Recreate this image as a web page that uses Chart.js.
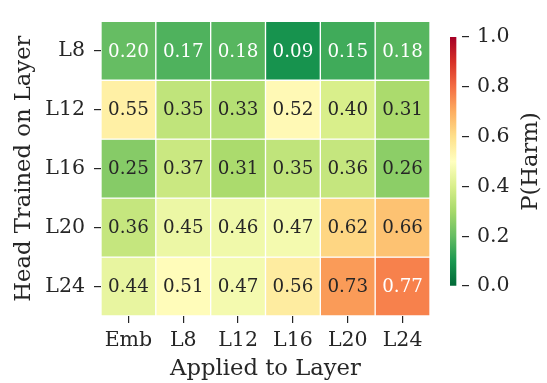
<!DOCTYPE html>
<html>
<head>
<meta charset="utf-8">
<script src="https://cdn.jsdelivr.net/npm/chart.js@4.4.1/dist/chart.umd.min.js"></script>
<style>
  html, body { margin: 0; padding: 0; background: #ffffff; }
  #wrap { position: relative; width: 547px; height: 383px; }
  #main { position: absolute; left: 0; top: 0; }
  #cbar { position: absolute; left: 440px; top: 0; }
</style>
</head>
<body>
<div id="wrap">
  <canvas id="main" width="547" height="383"></canvas>
  <canvas id="cbar" width="107" height="383"></canvas>
</div>
<script>
// ---- data ----
const rowLabels = ['L8', 'L12', 'L16', 'L20', 'L24'];
const colLabels = ['Emb', 'L8', 'L12', 'L16', 'L20', 'L24'];
const rowL8  = [0.20, 0.17, 0.18, 0.09, 0.15, 0.18];
const rowL12 = [0.55, 0.35, 0.33, 0.52, 0.40, 0.31];
const rowL16 = [0.25, 0.37, 0.31, 0.35, 0.36, 0.26];
const rowL20 = [0.36, 0.45, 0.46, 0.47, 0.62, 0.66];
const rowL24 = [0.44, 0.51, 0.47, 0.56, 0.73, 0.77];
const cbTicks = [0.0, 0.2, 0.4, 0.6, 0.8, 1.0];
const xTitle = 'Applied to Layer';
const yTitle = 'Head Trained on Layer';
const cbTitle = 'P(Harm)';

const rows = [rowL8, rowL12, rowL16, rowL20, rowL24];

// RdYlGn anchors (matplotlib), used reversed
const rdylgn = ['#a50026','#d73027','#f46d43','#fdae61','#fee08b','#ffffbf','#d9ef8b','#a6d96a','#66bd63','#1a9850','#006837'];
function hex2rgb(h){ return [parseInt(h.slice(1,3),16), parseInt(h.slice(3,5),16), parseInt(h.slice(5,7),16)]; }
const anchors = rdylgn.map(hex2rgb);
function cmapRGB(v){ // RdYlGn_r
  let t = 1 - Math.max(0, Math.min(1, v));
  const p = t * 10;
  const i = Math.min(9, Math.floor(p));
  const f = p - i;
  const a = anchors[i], b = anchors[i+1];
  return [0,1,2].map(k => Math.round(a[k] + (b[k]-a[k]) * f));
}
function cmap(v){ const c = cmapRGB(v); return `rgb(${c[0]},${c[1]},${c[2]})`; }
function textColorFor(v){
  const c = cmapRGB(v).map(x => { x /= 255; return x <= 0.03928 ? x/12.92 : Math.pow((x+0.055)/1.055, 2.4); });
  const lum = 0.2126*c[0] + 0.7152*c[1] + 0.0722*c[2];
  return lum > 0.408 ? '#262626' : '#ffffff';
}

const TICK = 20.5, CELL = 18.3, TITLE = 22.7;

Chart.defaults.font.family = "'DejaVu Serif', serif";
Chart.defaults.color = '#262626';

const datasets = rows.map((vals, r) => ({
  label: rowLabels[r],
  data: colLabels.map((c, i) => ({ x: c, y: [r, r + 1], v: vals[i] })),
  backgroundColor: vals.map(cmap),
  borderColor: '#ffffff',
  borderWidth: 1,
  borderSkipped: false,
  barPercentage: 1,
  categoryPercentage: 1,
  grouped: false
}));

const cellText = {
  id: 'cellText',
  afterDatasetsDraw(chart) {
    const ctx = chart.ctx;
    ctx.save();
    ctx.font = CELL + "px 'DejaVu Serif'";
    ctx.textAlign = 'center';
    ctx.textBaseline = 'middle';
    chart.data.datasets.forEach((ds, di) => {
      const meta = chart.getDatasetMeta(di);
      meta.data.forEach((el, i) => {
        const v = ds.data[i].v;
        ctx.fillStyle = textColorFor(v);
        ctx.fillText(v.toFixed(2), el.x, (el.y + el.base) / 2 + 1);
      });
    });
    ctx.restore();
  }
};

new Chart(document.getElementById('main'), {
  type: 'bar',
  data: { labels: colLabels, datasets },
  options: {
    responsive: false,
    animation: false,
    devicePixelRatio: 1,
    layout: { padding: { left: 0, right: 117, top: 7, bottom: 0 } },
    plugins: { legend: { display: false }, tooltip: { enabled: false } },
    scales: {
      x: {
        type: 'category',
        offset: true,
        grid: { display: true, drawOnChartArea: false, drawTicks: true, tickLength: 7, offset: false, color: '#262626', lineWidth: 1.2 },
        border: { display: false },
        ticks: { font: { size: TICK }, padding: 5, color: '#262626', maxRotation: 0 },
        title: { display: true, text: xTitle, font: { size: TITLE }, color: '#262626', padding: { top: 0, bottom: 0 } },
        afterFit(axis) { axis.height = 67; }
      },
      y: {
        type: 'linear',
        reverse: true,
        min: 0,
        max: 5,
        afterBuildTicks(axis) { axis.ticks = rowLabels.map((_, i) => ({ value: i + 0.5 })); },
        grid: { display: true, drawOnChartArea: false, drawTicks: true, tickLength: 7, color: '#262626', lineWidth: 1.2 },
        border: { display: false },
        ticks: { font: { size: TICK }, padding: 9, color: '#262626', callback: (v) => rowLabels[Math.floor(v)] },
        title: { display: true, text: yTitle, font: { size: TITLE }, color: '#262626', padding: { top: 10, bottom: 0 } },
        afterFit(axis) { axis.width = 101; }
      }
    }
  },
  plugins: [cellText]
});

// ---- colorbar ----
const cbTitlePlugin = {
  id: 'cbTitle',
  afterDraw(chart) {
    const ctx = chart.ctx;
    const ca = chart.chartArea;
    ctx.save();
    ctx.translate(91, (ca.top + ca.bottom) / 2);
    ctx.rotate(-Math.PI / 2);
    ctx.font = TITLE + "px 'DejaVu Serif'";
    ctx.fillStyle = '#262626';
    ctx.textAlign = 'center';
    ctx.textBaseline = 'middle';
    ctx.fillText(cbTitle, 0, 0);
    ctx.restore();
  }
};

new Chart(document.getElementById('cbar'), {
  type: 'bar',
  data: {
    labels: ['cb'],
    datasets: [{
      data: [[cbTicks[0], cbTicks[cbTicks.length - 1]]],
      backgroundColor(context) {
        const chart = context.chart;
        const ca = chart.chartArea;
        if (!ca) return '#ffffbf';
        const g = chart.ctx.createLinearGradient(0, ca.bottom, 0, ca.top);
        for (let k = 0; k <= 10; k++) {
          const v = k / 10;
          g.addColorStop(v, cmap(v));
        }
        return g;
      },
      borderWidth: 0,
      barPercentage: 1,
      categoryPercentage: 1
    }]
  },
  options: {
    responsive: false,
    animation: false,
    devicePixelRatio: 1,
    layout: { padding: { left: 10, right: 0, top: 37, bottom: 97 } },
    plugins: { legend: { display: false }, tooltip: { enabled: false } },
    scales: {
      x: { display: false, offset: false },
      y: {
        position: 'right',
        min: 0,
        max: 1,
        afterBuildTicks(axis) { axis.ticks = cbTicks.map(v => ({ value: v })); },
        grid: { display: true, drawOnChartArea: false, drawTicks: true, tickLength: 7, color: '#262626', lineWidth: 1.2 },
        border: { display: false },
        ticks: { font: { size: TICK }, padding: 8, color: '#262626', callback: (v) => Number(v).toFixed(1) },
        afterFit(axis) { axis.width = 85; }
      }
    }
  },
  plugins: [cbTitlePlugin]
});
</script>
</body>
</html>
